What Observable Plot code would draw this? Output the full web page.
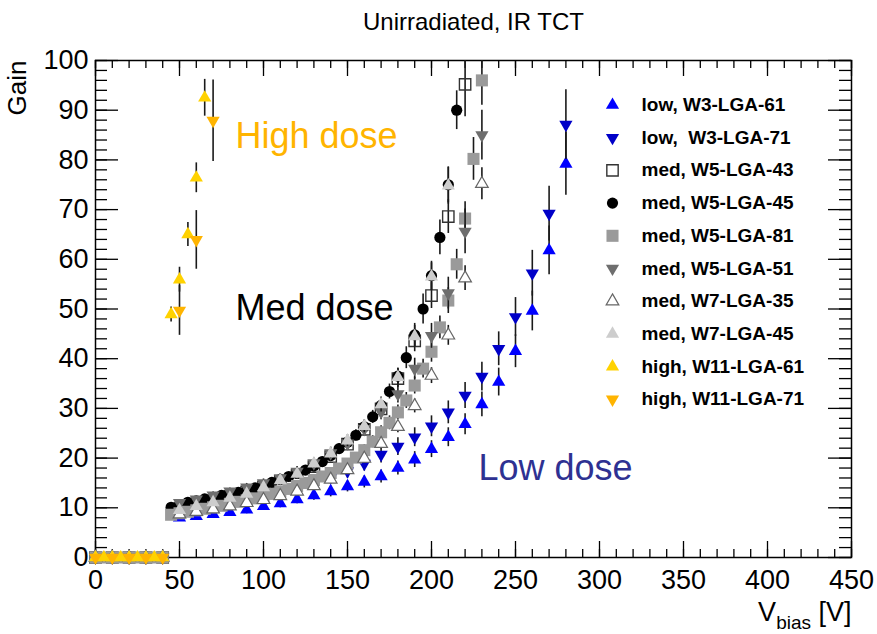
<!DOCTYPE html>
<html>
<head>
<meta charset="utf-8">
<script src="https://cdn.jsdelivr.net/npm/d3@7"></script>
<script src="https://cdn.jsdelivr.net/npm/@observablehq/plot@0.6"></script>
<style>
  html, body { margin: 0; padding: 0; background: #fff; }
  #chart svg { display: block; }
</style>
</head>
<body>
<div id="chart"></div>
<script>
// ---- Gain vs bias voltage, unirradiated sensors (IR TCT) ----

// Bias voltages [V] per sensor
const vW3_61  = [0,10,20,30,40,50,60,70,80,90,100,110,120,130,140,150,160,170,180,190,200,210,220,230,240,250,260,270,280];
const vW3_71  = [0,10,20,30,40,50,60,70,80,90,100,110,120,130,140,150,160,170,180,190,200,210,220,230,240,250,260,270,280];
const vW5_43  = [0,10,20,30,40,50,60,70,80,90,100,110,120,130,140,150,160,170,180,190,200,210,220];
const vW5_45  = [0,5,10,15,20,25,30,35,40,45,50,55,60,65,70,75,80,85,90,95,100,105,110,115,120,125,130,135,140,145,150,155,160,165,170,175,180,185,190,195,200,205,210,215];
const vW5_81  = [0,5,10,15,20,25,30,35,40,45,50,55,60,65,70,75,80,85,90,95,100,105,110,115,120,125,130,135,140,145,150,155,160,165,170,175,180,185,190,195,200,205,210,215,220,225,230];
const vW5_51  = [0,10,20,30,40,50,60,70,80,90,100,110,120,130,140,150,160,170,180,190,200,210,220,230];
const vW7_35  = [0,10,20,30,40,50,60,70,80,90,100,110,120,130,140,150,160,170,180,190,200,210,220,230];
const vW7_45  = [0,10,20,30,40,50,60,70,80,90,100,110,120,130,140,150,160,170,180,190,200,210];
const vW11_61 = [0,5,10,15,20,25,30,35,40,45,50,55,60,65];
const vW11_71 = [0,10,20,30,40,50,60,70];

// Gain
const gainW3_61  = [0,0,0,0,0,8.0,8.3,8.7,9.1,9.6,10.3,10.9,11.7,12.5,13.3,14.3,15.2,16.3,18.0,19.7,21.8,24.2,26.8,30.8,35.3,41.5,49.6,61.8,79.2];
const gainW3_71  = [0,0,0,0,0,9.6,10.0,10.5,11.0,11.6,12.3,13.1,14.0,15.0,16.1,17.4,18.9,20.7,22.3,24.2,26.4,29.2,32.6,36.4,42.0,48.4,57.2,69.2,87.1];
const gainW5_43  = [0,0,0,0,0,9.8,10.6,11.4,12.3,13.2,14.2,15.3,16.6,18.3,20.3,22.8,25.8,29.9,36.0,43.6,52.7,68.6,95.2];
const gainW5_45  = [0,0,0,0,0,0,0,0,0,10.1,10.6,11.1,11.4,11.8,12.1,12.5,12.8,13.1,13.5,14.0,14.5,15.1,15.7,16.3,16.9,17.6,18.4,19.3,20.5,21.9,23.2,24.6,26.3,28.3,30.6,33.4,36.5,40.2,44.8,50.0,56.7,64.4,75.0,90.0];
const gainW5_81  = [0,0,0,0,0,0,0,0,0,8.6,8.9,9.2,9.5,9.8,10.1,10.4,10.8,11.2,11.5,11.9,12.3,12.8,13.3,13.8,14.4,15.0,15.6,16.3,17.0,17.9,18.9,20.1,21.6,23.3,25.2,27.1,29.2,31.6,34.6,38.0,41.4,46.3,51.7,59.0,68.2,80.2,96.0];
const gainW5_51  = [0,0,0,0,0,11.0,11.7,12.5,13.3,14.1,15.0,16.0,17.3,19.0,21.0,23.0,25.9,29.3,32.9,38.0,44.6,53.2,65.6,85.0];
const gainW7_35  = [0,0,0,0,0,8.7,9.2,9.7,10.3,11.0,11.6,12.4,13.3,14.4,15.7,17.6,19.9,22.9,26.3,30.5,36.6,44.7,56.2,75.2];
const gainW7_45  = [0,0,0,0,0,9.5,10.3,11.1,12.0,12.8,14.1,15.5,16.8,18.9,20.9,23.5,26.4,30.8,36.3,44.5,56.5,74.8];
const gainW11_61 = [0,0,0,0,0,0,0,0,0,48.9,55.9,65.0,76.4,92.5];
const gainW11_71 = [0,0,0,0,0,49.7,63.9,87.9];

// Gain uncertainties
const errW3_61  = [0,0,0,0,0,0.6,0.7,0.7,0.7,0.8,0.8,0.9,0.9,1.0,1.1,1.1,1.2,1.3,1.4,1.6,1.7,1.9,2.1,2.5,2.8,3.3,4.0,4.9,6.3];
const errW3_71  = [0,0,0,0,0,0.8,0.8,0.8,0.9,0.9,1.0,1.0,1.1,1.2,1.3,1.4,1.5,1.7,1.8,1.9,2.1,2.3,2.6,2.9,3.4,3.9,4.6,5.5,7.0];
const errW5_43  = [0,0,0,0,0,0.5,0.5,0.6,0.6,0.7,0.7,0.8,0.8,0.9,1.0,1.1,1.3,1.5,1.8,2.2,2.6,3.4,6.5];
const errW5_45  = [0,0,0,0,0,0,0,0,0,0.5,0.5,0.5,0.5,0.5,0.5,0.6,0.6,0.6,0.6,0.6,0.7,0.7,0.7,0.7,0.8,0.8,0.8,0.9,0.9,1.0,1.0,1.1,1.2,1.3,1.4,1.5,1.6,2.2,2.3,3.0,2.9,3.5,3.6,3.9];
const errW5_81  = [0,0,0,0,0,0,0,0,0,0.4,0.4,0.5,0.5,0.5,0.5,0.5,0.5,0.6,0.6,0.6,0.6,0.6,0.7,0.7,0.7,0.8,0.8,0.8,0.9,0.9,0.9,1.0,1.1,1.2,1.3,1.4,1.5,1.6,1.7,1.9,2.1,2.3,2.6,3.0,3.4,4.3,5.0];
const errW5_51  = [0,0,0,0,0,0.6,0.6,0.7,0.7,0.8,0.8,0.9,1.0,1.0,1.2,1.3,1.4,1.6,1.8,2.1,2.5,3.2,4.5,5.0];
const errW7_35  = [0,0,0,0,0,0.4,0.4,0.4,0.5,0.5,0.5,0.6,0.6,0.6,0.7,0.8,0.9,1.0,1.2,1.4,1.6,2.0,2.5,3.2];
const errW7_45  = [0,0,0,0,0,0.5,0.5,0.6,0.6,0.6,0.7,0.8,0.8,0.9,1.0,1.2,1.3,1.5,1.8,2.2,2.8,3.7];
const errW11_61 = [0,0,0,0,0,0,0,0,0,1.5,2.5,2.4,3.0,3.7];
const errW11_71 = [0,0,0,0,0,5.0,5.9,8.2];

// Axis ticks
const xTicks = [0,50,100,150,200,250,300,350,400,450];
const yTicks = [0,10,20,30,40,50,60,70,80,90,100];
const xMinorTicks = d3.range(0, 451, 10);
const yMinorTicks = d3.range(0, 101, 2);

// Texts
const titleText = "Unirradiated, IR TCT";
const doseLabels = ["High dose", "Med dose", "Low dose"];

// ---- layout ----
const W = 877, H = 634;
const margin = {top: 60, right: 26, bottom: 77, left: 95};
const frameW = W - margin.left - margin.right;
const frameH = H - margin.top - margin.bottom;
const font = "'Liberation Sans', Arial, Helvetica, sans-serif";

// downward triangle with the same geometry as d3.symbolTriangle
const sqrt3 = Math.sqrt(3);
const triangleDown = {
  draw(context, size) {
    const y = -Math.sqrt(size / (sqrt3 * 3));
    context.moveTo(0, -y * 2);
    context.lineTo(-sqrt3 * y, y);
    context.lineTo(sqrt3 * y, y);
    context.closePath();
  }
};

const series = [
  {label: "low, W3-LGA-61",        v: vW3_61,  g: gainW3_61,  e: errW3_61,  symbol: d3.symbolTriangle, fill: "#0000ff", stroke: "none", r: 4.9},
  {label: "low,\u00a0 W3-LGA-71",  v: vW3_71,  g: gainW3_71,  e: errW3_71,  symbol: triangleDown,      fill: "#0000c8", stroke: "none", r: 4.9},
  {label: "med, W5-LGA-43",        v: vW5_43,  g: gainW5_43,  e: errW5_43,  symbol: "square",          fill: "none",    stroke: "#333", sw: 1.4, r: 6.4},
  {label: "med, W5-LGA-45",        v: vW5_45,  g: gainW5_45,  e: errW5_45,  symbol: "circle",          fill: "#000",    stroke: "none", r: 5.6},
  {label: "med, W5-LGA-81",        v: vW5_81,  g: gainW5_81,  e: errW5_81,  symbol: "square",          fill: "#9a9a9a", stroke: "none", r: 6.8},
  {label: "med, W5-LGA-51",        v: vW5_51,  g: gainW5_51,  e: errW5_51,  symbol: triangleDown,      fill: "#6e6e6e", stroke: "none", r: 4.9},
  {label: "med, W7-LGA-35",        v: vW7_35,  g: gainW7_35,  e: errW7_35,  symbol: d3.symbolTriangle, fill: "#fff",    stroke: "#666", sw: 1.2, r: 4.7},
  {label: "med, W7-LGA-45",        v: vW7_45,  g: gainW7_45,  e: errW7_45,  symbol: d3.symbolTriangle, fill: "#cdcdcd", stroke: "none", r: 4.9},
  {label: "high, W11-LGA-61",      v: vW11_61, g: gainW11_61, e: errW11_61, symbol: d3.symbolTriangle, fill: "#ffd200", stroke: "none", r: 4.9},
  {label: "high, W11-LGA-71",      v: vW11_71, g: gainW11_71, e: errW11_71, symbol: triangleDown,      fill: "#ffb400", stroke: "none", r: 4.9}
];

// frame, inward ticks on all four sides
const frameMarks = [
  Plot.tickX(xMinorTicks, {x: d => d, insetTop: frameH - 8, stroke: "#000", strokeWidth: 1.3}),
  Plot.tickX(xMinorTicks, {x: d => d, insetBottom: frameH - 8, stroke: "#000", strokeWidth: 1.3}),
  Plot.tickX(xTicks, {x: d => d, insetTop: frameH - 16, stroke: "#000", strokeWidth: 1.3}),
  Plot.tickX(xTicks, {x: d => d, insetBottom: frameH - 16, stroke: "#000", strokeWidth: 1.3}),
  Plot.tickY(yMinorTicks, {y: d => d, insetRight: frameW - 12, stroke: "#000", strokeWidth: 1.3}),
  Plot.tickY(yMinorTicks, {y: d => d, insetLeft: frameW - 12, stroke: "#000", strokeWidth: 1.3}),
  Plot.tickY(yTicks, {y: d => d, insetRight: frameW - 23, stroke: "#000", strokeWidth: 1.3}),
  Plot.tickY(yTicks, {y: d => d, insetLeft: frameW - 23, stroke: "#000", strokeWidth: 1.3}),
  Plot.frame({stroke: "#000", strokeWidth: 1.5}),
  Plot.axisX({ticks: xTicks, tickSize: 0, tickPadding: 12, fontSize: 27, label: null}),
  Plot.axisY({ticks: yTicks, tickSize: 0, tickPadding: 7, fontSize: 27, label: null})
];

// data: error bars and markers, one sensor at a time
const dataMarks = series.flatMap(s => {
  const rows = s.v.map((v, i) => ({v, g: s.g[i], e: s.e[i]}));
  return [
    Plot.ruleX(rows.filter(d => d.e > 0), {x: "v", y1: d => d.g - d.e, y2: d => d.g + d.e, stroke: "#1a1a1a", strokeWidth: 1.6, clip: true}),
    Plot.dot(rows, {x: "v", y: "g", symbol: s.symbol, r: s.r, fill: s.fill, stroke: s.stroke, strokeWidth: s.sw || 1})
  ];
});

// legend, top right inside the frame
const legendMarks = series.flatMap((s, i) => {
  const dy = 104.5 + i * 32.7 - margin.top;
  return [
    Plot.dot([s], {frameAnchor: "top-left", dx: 612 - margin.left, dy, symbol: s.symbol, r: s.r, fill: s.fill, stroke: s.stroke, strokeWidth: s.sw || 1}),
    Plot.text([s.label], {frameAnchor: "top-left", dx: 641 - margin.left, dy, text: d => d, textAnchor: "start", lineAnchor: "middle", fontSize: 19, fontWeight: "bold", fill: "#000"})
  ];
});

const textMarks = [
  Plot.text([titleText], {frameAnchor: "top", dy: -38, text: d => d, fontSize: 24, lineAnchor: "middle", fill: "#000"}),
  Plot.text(["Gain"], {frameAnchor: "top-left", dx: -78, dy: 0, text: d => d, rotate: -90, textAnchor: "end", lineAnchor: "middle", fontSize: 26, fill: "#000"}),
  Plot.text(["Vbias [V]"], {frameAnchor: "bottom-right", dx: 0, dy: 55, text: d => d, textAnchor: "end", lineAnchor: "middle", fontSize: 27, fill: "#000"}),
  Plot.text([doseLabels[0]], {frameAnchor: "top-left", dx: 140, dy: 76, text: d => d, textAnchor: "start", lineAnchor: "middle", fontSize: 36, fill: "#ffb400"}),
  Plot.text([doseLabels[1]], {frameAnchor: "top-left", dx: 140, dy: 248, text: d => d, textAnchor: "start", lineAnchor: "middle", fontSize: 36, fill: "#000"}),
  Plot.text([doseLabels[2]], {frameAnchor: "top-left", dx: 383, dy: 408, text: d => d, textAnchor: "start", lineAnchor: "middle", fontSize: 36, fill: "#2e3192"})
];

const chart = Plot.plot({
  width: W,
  height: H,
  marginTop: margin.top,
  marginRight: margin.right,
  marginBottom: margin.bottom,
  marginLeft: margin.left,
  x: {domain: [0, 450]},
  y: {domain: [0, 100]},
  style: {fontFamily: font, background: "#fff", color: "#000"},
  marks: [...frameMarks, ...dataMarks, ...legendMarks, ...textMarks]
});

// subscript for the x-axis title
const xTitle = [...chart.querySelectorAll("text")].find(t => t.textContent === "Vbias [V]");
if (xTitle) {
  const ns = "http://www.w3.org/2000/svg";
  xTitle.textContent = "V";
  const sub = document.createElementNS(ns, "tspan");
  sub.setAttribute("font-size", "19");
  sub.setAttribute("dy", "8");
  sub.textContent = "bias";
  const rest = document.createElementNS(ns, "tspan");
  rest.setAttribute("dy", "-8");
  rest.textContent = "\u00a0[V]";
  xTitle.append(sub, rest);
}

document.getElementById("chart").append(chart);
</script>
</body>
</html>
